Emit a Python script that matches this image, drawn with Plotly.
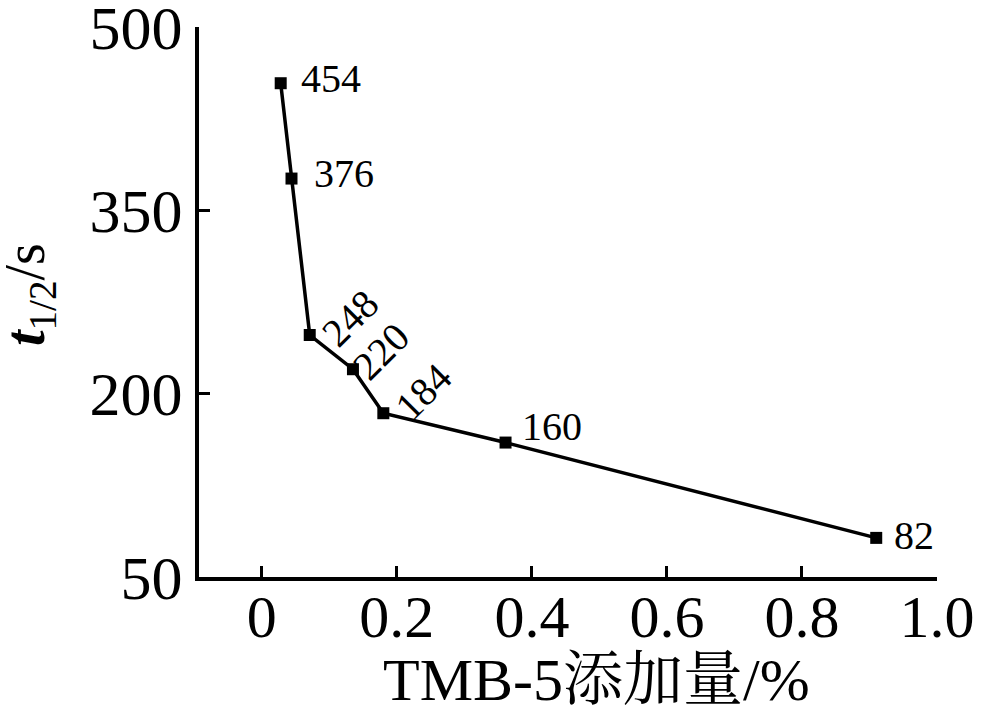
import plotly.graph_objects as go

x_vals = [0.028, 0.044, 0.071, 0.135, 0.18, 0.361, 0.91]
y_vals = [454, 376, 248, 220, 184, 160, 82]
labels = ["454", "376", "248", "220", "184", "160", "82"]
label_angle = [0, 0, -45, -45, -45, 0, 0]
label_dx = [50, 52, 40, 28, 40, 46, 38]
label_dy = [5, 5, 17, 18, 22, 16, 2]
x_ticks = [0, 0.2, 0.4, 0.6, 0.8, 1.0]
x_tick_text = ["0", "0.2", "0.4", "0.6", "0.8", "1.0"]
y_ticks = [50, 200, 350, 500]
x_title = "TMB-5添加量/%"
y_title = "<i><b>t</b></i><sub>1/2</sub>/s"

serif = "Liberation Serif, Times New Roman, Noto Serif CJK SC, Noto Sans CJK SC, serif"

fig = go.Figure()
fig.add_trace(go.Scatter(
    x=x_vals, y=y_vals, mode="lines+markers",
    line=dict(color="black", width=3.5),
    marker=dict(symbol="square", size=12, color="black"),
    showlegend=False, cliponaxis=False, hoverinfo="skip",
))

for xv, yv, t, a, dx, dy in zip(x_vals, y_vals, labels, label_angle, label_dx, label_dy):
    fig.add_annotation(
        x=xv, y=yv, text=t, showarrow=False, textangle=a,
        xanchor="center", yanchor="middle", xshift=dx, yshift=dy,
        font=dict(family=serif, size=40, color="black"),
    )

fig.add_annotation(
    xref="paper", yref="paper", x=0.538, y=-0.187, text=x_title, showarrow=False,
    xanchor="center", yanchor="middle", font=dict(family=serif, size=60, color="black"),
)
fig.add_annotation(
    xref="paper", yref="paper", x=-0.23, y=0.513, text=y_title, showarrow=False,
    textangle=-90, xanchor="center", yanchor="middle",
    font=dict(family=serif, size=56, color="black"),
)

fig.update_layout(
    width=981, height=711,
    margin=dict(l=199, r=44, t=27, b=134),
    paper_bgcolor="white", plot_bgcolor="white",
    font=dict(family=serif, color="black"),
)
fig.update_xaxes(
    range=[-0.093, 1.0], tickvals=x_ticks, ticktext=x_tick_text,
    ticks="inside", ticklen=11, tickwidth=3, tickcolor="black",
    showline=True, linecolor="black", linewidth=4, showgrid=False, zeroline=False,
    tickfont=dict(family=serif, size=60), automargin=False,
    ticklabeloverflow="allow", ticklabelstandoff=-16,
)
fig.update_yaxes(
    range=[50, 500], tickvals=y_ticks,
    ticks="inside", ticklen=11, tickwidth=3, tickcolor="black",
    showline=True, linecolor="black", linewidth=4, showgrid=False, zeroline=False,
    tickfont=dict(family=serif, size=62), automargin=False,
    ticklabeloverflow="allow",
)

fig.write_html("out.html", config={"displayModeBar": False},
               post_script="document.body.style.margin='0';")
